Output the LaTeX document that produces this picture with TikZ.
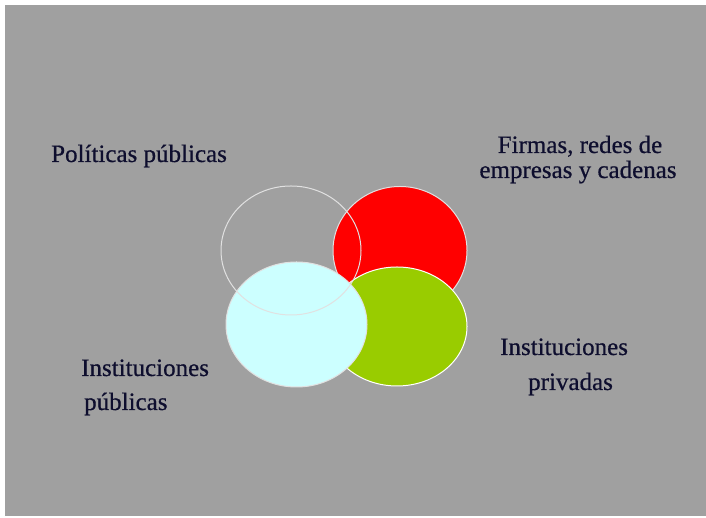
\documentclass[tikz,border=0pt]{standalone}
\usepackage{fontspec}
\setmainfont{Liberation Serif}
\newfontfamily\lblfont[FakeBold=0.6]{Liberation Serif}
\usetikzlibrary{shapes.geometric}
\definecolor{bggray}{RGB}{160,160,160}
\definecolor{txtnavy}{RGB}{14,14,46}
\definecolor{vred}{RGB}{255,0,0}
\definecolor{vgreen}{RGB}{153,204,0}
\definecolor{vcyan}{RGB}{204,255,255}
\definecolor{rimlight}{RGB}{225,225,225}
\begin{document}
\begin{tikzpicture}[x=1pt,y=1pt,
  lbl/.style={inner sep=0pt,text=txtnavy,font=\lblfont\fontsize{25}{30}\selectfont},
  venn/.style={ellipse,inner sep=0pt,line width=1pt}]
\useasboundingbox (0,0) rectangle (706,518);
\fill[bggray] (5,2) rectangle (706,513);
\node[venn,fill=vred,draw=rimlight,minimum width=134pt,minimum height=128pt] (red) at (400,267.5) {};
\node[venn,fill=vgreen,draw=white,minimum width=140pt,minimum height=119pt] (green) at (397,191.5) {};
\node[venn,fill=vcyan,draw=rimlight,minimum width=141pt,minimum height=125pt] (cyan) at (296.5,193.5) {};
\node[venn,draw=rimlight,minimum width=140pt,minimum height=129pt] (open) at (291,267.5) {};
\node[lbl,anchor=base west] (pol) at (51,356) {Políticas públicas};
\node[lbl,anchor=base] (firmas1) at (580,365) {Firmas, redes de};
\node[lbl,anchor=base] (firmas2) at (578,340) {empresas y cadenas};
\node[lbl,anchor=base west] (instpub1) at (81,142) {Instituciones};
\node[lbl,anchor=base west] (instpub2) at (84,108) {públicas};
\node[lbl,anchor=base west] (instpriv1) at (500,163) {Instituciones};
\node[lbl,anchor=base west] (instpriv2) at (528,128) {privadas};
\end{tikzpicture}
\end{document}
